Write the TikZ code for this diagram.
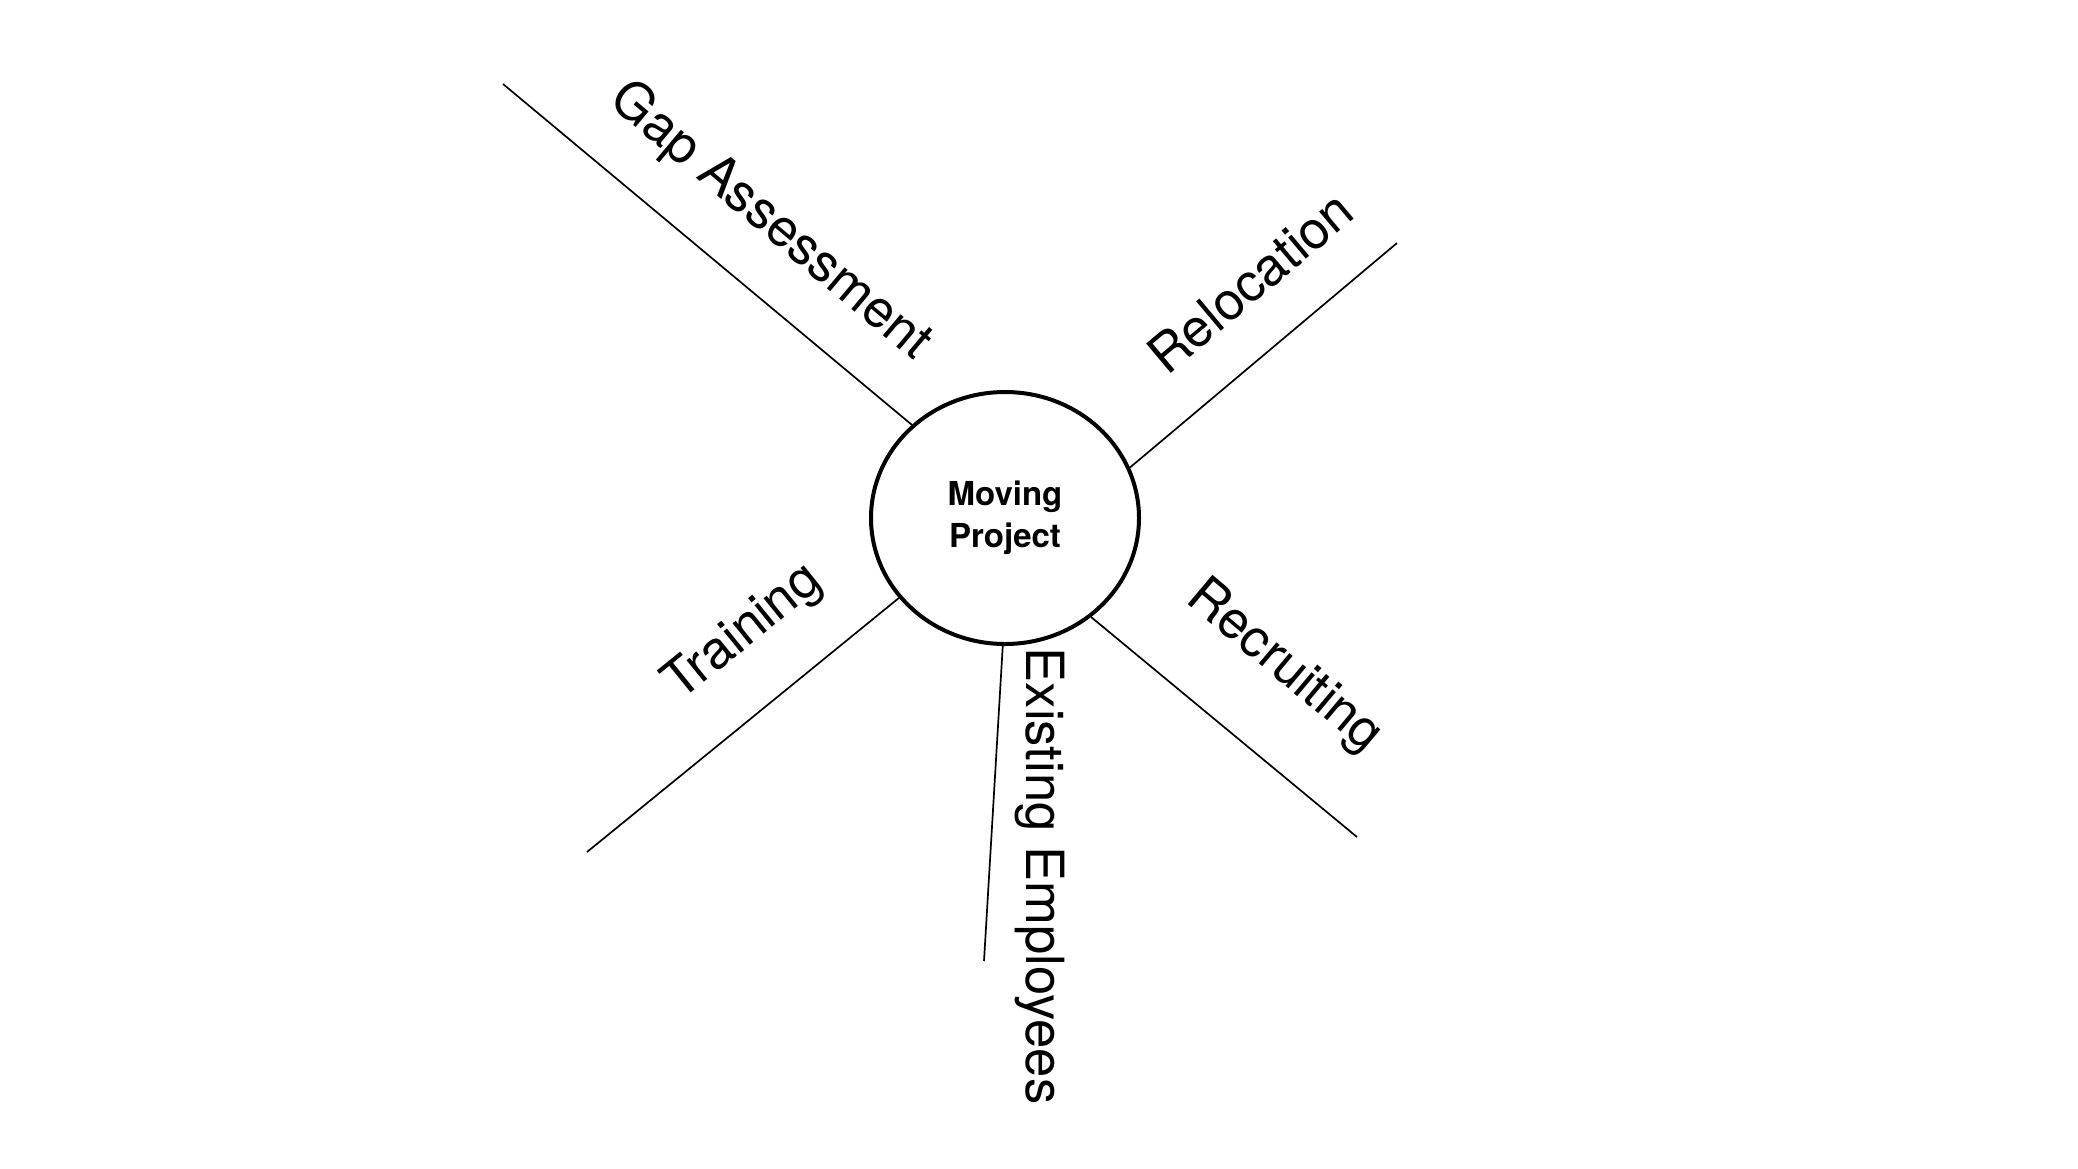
\documentclass[tikz,border=0pt]{standalone}
\usepackage{fontspec}
\setmainfont{TeX Gyre Heros}
\usetikzlibrary{shapes.geometric}
\begin{document}
\begin{tikzpicture}[x=0.5pt,y=-0.5pt,
  hubstyle/.style={draw,ellipse,line width=2pt,minimum width=134pt,minimum height=126pt,inner sep=0pt,align=center,font=\fontsize{16.5}{21}\selectfont\bfseries},
  spoke/.style={line width=0.85pt},
  lbl/.style={inner sep=0pt,font=\fontsize{26.3}{31}\selectfont}]
\useasboundingbox (0,0) rectangle (2078,1168);
\node[hubstyle] (hub) at (1005,518) {Moving\\Project};
\coordinate (gaend) at (503,84);
\coordinate (relend) at (1397,243);
\coordinate (trend) at (587,852);
\coordinate (rcend) at (1357,837);
\coordinate (exend) at (984,961);
\draw[spoke] (hub.135.6) -- (gaend);
\draw[spoke] (hub.22.8) -- (relend);
\draw[spoke] (hub.217.1) -- (trend);
\draw[spoke] (hub.311.9) -- (rcend);
\draw[spoke] (hub.269) -- (exend);
\node[lbl,rotate=-40] (ga) at (770,222) {Gap Assessment};
\node[lbl,rotate=40] (rel) at (1250,282) {Relocation};
\node[lbl,rotate=39] (tr) at (744,633) {Training};
\node[lbl,rotate=-40] (rc) at (1284,667) {Recruiting};
\node[lbl,rotate=-90] (ex) at (1040,876) {Existing Employees};
\end{tikzpicture}
\end{document}
